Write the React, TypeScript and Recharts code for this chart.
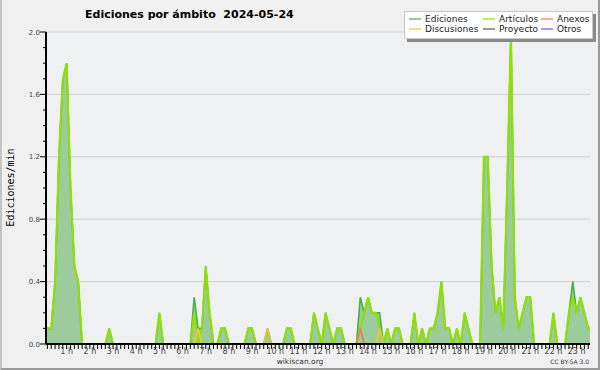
import { ComposedChart, Area, Line, XAxis, YAxis, CartesianGrid } from 'recharts'

// tramos de 10 minutos, 00:00 .. 23:50 (ediciones por minuto)
const SLOT_MINUTES = 10

const ediciones = [
  0.1, 0.1, 0.1, 0.4, 1.2, 1.7, 1.8, 1.0, 0.5, 0.4, 0, 0,
  0, 0, 0, 0, 0, 0.1, 0, 0, 0, 0, 0, 0,
  0, 0, 0, 0, 0, 0, 0.2, 0, 0, 0, 0, 0,
  0, 0, 0, 0.3, 0.1, 0.1, 0.5, 0.2, 0, 0, 0.1, 0.1,
  0, 0, 0, 0, 0, 0.1, 0.1, 0, 0, 0, 0.1, 0,
  0, 0, 0, 0.1, 0.1, 0, 0, 0, 0, 0, 0.2, 0.1,
  0, 0.2, 0.1, 0, 0.1, 0.1, 0, 0, 0, 0, 0.3, 0.2,
  0.3, 0.2, 0.2, 0.2, 0, 0.1, 0, 0.1, 0.1, 0, 0, 0,
  0.2, 0, 0.1, 0, 0.1, 0.1, 0.2, 0.4, 0.1, 0.1, 0, 0.1,
  0, 0.2, 0.1, 0, 0, 0, 1.2, 1.2, 0.5, 0.2, 0.3, 0.1,
  1.0, 2.0, 0.3, 0.1, 0.2, 0.3, 0.3, 0, 0, 0, 0, 0,
  0.2, 0, 0, 0, 0.2, 0.4, 0.2, 0.3, 0.2, 0.1, 0.1, 0,
]

const articulos = [
  0.1, 0.1, 0.1, 0.4, 1.2, 1.7, 1.8, 1.0, 0.5, 0.4, 0, 0,
  0, 0, 0, 0, 0, 0.1, 0, 0, 0, 0, 0, 0,
  0, 0, 0, 0, 0, 0, 0.2, 0, 0, 0, 0, 0,
  0, 0, 0, 0.2, 0, 0.1, 0.5, 0.2, 0, 0, 0.1, 0.1,
  0, 0, 0, 0, 0, 0.1, 0.1, 0, 0, 0, 0, 0,
  0, 0, 0, 0.1, 0.1, 0, 0, 0, 0, 0, 0.2, 0.1,
  0, 0.2, 0.1, 0, 0.1, 0.1, 0, 0, 0, 0, 0.1, 0.2,
  0.3, 0.2, 0.2, 0.1, 0, 0.1, 0, 0.1, 0.1, 0, 0, 0,
  0.2, 0, 0.1, 0, 0.1, 0.1, 0.2, 0.4, 0.1, 0.1, 0, 0.1,
  0, 0.2, 0.1, 0, 0, 0, 1.2, 1.2, 0.5, 0.2, 0.3, 0.1,
  1.0, 2.0, 0.3, 0.1, 0.2, 0.3, 0.3, 0, 0, 0, 0, 0,
  0.2, 0, 0, 0, 0.2, 0.3, 0.2, 0.3, 0.2, 0.1, 0.1, 0,
]

const anexos = [
  0, 0, 0, 0, 0, 0, 0, 0, 0, 0, 0, 0,
  0, 0, 0, 0, 0, 0, 0, 0, 0, 0, 0, 0,
  0, 0, 0, 0, 0, 0, 0, 0, 0, 0, 0, 0,
  0, 0, 0, 0, 0, 0, 0, 0, 0, 0, 0, 0,
  0, 0, 0, 0, 0, 0, 0, 0, 0, 0, 0, 0,
  0, 0, 0, 0, 0, 0, 0, 0, 0, 0, 0, 0,
  0, 0, 0, 0, 0, 0, 0, 0, 0, 0, 0.1, 0,
  0, 0, 0, 0, 0, 0, 0, 0, 0, 0, 0, 0,
  0, 0, 0, 0, 0, 0, 0, 0, 0, 0, 0, 0,
  0, 0, 0, 0, 0, 0, 0, 0, 0, 0, 0, 0,
  0, 0, 0, 0, 0, 0, 0, 0, 0, 0, 0, 0,
  0, 0, 0, 0, 0, 0, 0, 0, 0, 0, 0, 0,
]

const discusiones = [
  0, 0, 0, 0, 0, 0, 0, 0, 0, 0, 0, 0,
  0, 0, 0, 0, 0, 0, 0, 0, 0, 0, 0, 0,
  0, 0, 0, 0, 0, 0, 0, 0, 0, 0, 0, 0,
  0, 0, 0, 0, 0.1, 0, 0, 0, 0, 0, 0, 0,
  0, 0, 0, 0, 0, 0, 0, 0, 0, 0, 0.1, 0,
  0, 0, 0, 0, 0, 0, 0, 0, 0, 0, 0, 0,
  0, 0, 0, 0, 0, 0, 0, 0, 0, 0, 0, 0,
  0, 0, 0, 0.1, 0, 0, 0, 0, 0, 0, 0, 0,
  0, 0, 0, 0, 0, 0, 0, 0, 0, 0, 0, 0,
  0, 0, 0, 0, 0, 0, 0, 0, 0, 0, 0, 0,
  0, 0, 0, 0, 0, 0, 0, 0, 0, 0, 0, 0,
  0, 0, 0, 0, 0, 0, 0, 0, 0, 0, 0, 0,
]

const proyecto = [
  0, 0, 0, 0, 0, 0, 0, 0, 0, 0, 0, 0,
  0, 0, 0, 0, 0, 0, 0, 0, 0, 0, 0, 0,
  0, 0, 0, 0, 0, 0, 0, 0, 0, 0, 0, 0,
  0, 0, 0, 0, 0, 0, 0, 0, 0, 0, 0, 0,
  0, 0, 0, 0, 0, 0, 0, 0, 0, 0, 0, 0,
  0, 0, 0, 0, 0, 0, 0, 0, 0, 0, 0, 0,
  0, 0, 0, 0, 0, 0, 0, 0, 0, 0, 0, 0,
  0, 0, 0, 0, 0, 0, 0, 0, 0, 0, 0, 0,
  0, 0, 0, 0, 0, 0, 0, 0, 0, 0, 0, 0,
  0, 0, 0, 0, 0, 0, 0, 0, 0, 0, 0, 0,
  0, 0, 0, 0, 0, 0, 0, 0, 0, 0, 0, 0,
  0, 0, 0, 0, 0, 0, 0, 0, 0, 0, 0, 0,
]

const otros = [
  0, 0, 0, 0, 0, 0, 0, 0, 0, 0, 0, 0,
  0, 0, 0, 0, 0, 0, 0, 0, 0, 0, 0, 0,
  0, 0, 0, 0, 0, 0, 0, 0, 0, 0, 0, 0,
  0, 0, 0, 0, 0, 0, 0, 0, 0, 0, 0, 0,
  0, 0, 0, 0, 0, 0, 0, 0, 0, 0, 0, 0,
  0, 0, 0, 0, 0, 0, 0, 0, 0, 0, 0, 0,
  0, 0, 0, 0, 0, 0, 0, 0, 0, 0, 0, 0,
  0, 0, 0, 0, 0, 0, 0, 0, 0, 0, 0, 0,
  0, 0, 0, 0, 0, 0, 0, 0, 0, 0, 0, 0,
  0, 0, 0, 0, 0, 0, 0, 0, 0, 0, 0, 0,
  0, 0, 0, 0, 0, 0, 0, 0, 0, 0, 0, 0,
  0, 0, 0, 0, 0, 0, 0, 0, 0, 0, 0, 0,
]

const hourTicks = [1, 2, 3, 4, 5, 6, 7, 8, 9, 10, 11, 12, 13, 14, 15, 16, 17, 18, 19, 20, 21, 22, 23]
const yTicks = [0, 0.1, 0.2, 0.3, 0.4, 0.5, 0.6, 0.7, 0.8, 0.9, 1.0, 1.1, 1.2, 1.3, 1.4, 1.5, 1.6, 1.7, 1.8, 1.9, 2.0]
const yGridValues = [0.4, 0.8, 1.2, 1.6, 2.0]

const series = [
  { key: 'ediciones', name: 'Ediciones', color: '#45b045', width: 1.6 },
  { key: 'articulos', name: 'Artículos', color: '#90e000', width: 2 },
  { key: 'anexos', name: 'Anexos', color: '#f07a45', width: 1.6 },
  { key: 'discusiones', name: 'Discusiones', color: '#f0c828', width: 1.6 },
  { key: 'proyecto', name: 'Proyecto', color: '#555555', width: 1.6 },
  { key: 'otros', name: 'Otros', color: '#9048e8', width: 1.6 },
]

const data = ediciones.map((value, i) => ({
  hora: (i * SLOT_MINUTES) / 60,
  ediciones: value,
  articulos: articulos[i],
  anexos: anexos[i],
  discusiones: discusiones[i],
  proyecto: proyecto[i],
  otros: otros[i],
}))

// una marca cada 10 minutos dentro del eje
const xTicks = Array.from({ length: 141 }, (_, k) => ((k + 1) * SLOT_MINUTES) / 60)

const X_MIN = 0.108
const X_MAX = 23.576

const FONT = '"DejaVu Sans", sans-serif'

function renderXTick(props: any) {
  const { x, y, payload } = props
  const hour = payload.value
  const isHour = hourTicks.includes(hour)
  return (
    <g>
      <line x1={x} x2={x} y1={y} y2={y + 5} stroke="#000" strokeWidth={1} />
      {isHour && (
        <text x={x} y={y + 9.5} textAnchor="middle" fontSize={8} fontFamily={FONT} fill="#444">
          {`${hour} h`}
        </text>
      )}
    </g>
  )
}

function renderYTick(props: any) {
  const { x, y, payload } = props
  const v = payload.value
  const isMajor = Math.round(v * 10) % 4 === 0
  return (
    <g>
      <line x1={x - (isMajor ? 6 : 3)} x2={x} y1={y} y2={y} stroke="#000" strokeWidth={1} />
      {isMajor && (
        <text x={x - 6} y={y + 2.5} textAnchor="end" fontSize={7} fontFamily={FONT} fill="#444">
          {v.toFixed(1)}
        </text>
      )}
    </g>
  )
}

const legendRows = [series.slice(0, 3), series.slice(3, 6)]
const legendCols = [4, 78, 136]

export default function App() {
  return (
    <div style={{ position: 'relative', width: 600, height: 370, background: '#f0f0f0', overflow: 'hidden' }}>
      <style>{'body{margin:0}'}</style>
      <ComposedChart
        width={600}
        height={370}
        data={data}
        margin={{ top: 32, right: 10, bottom: 0, left: 0 }}
      >
        <CartesianGrid vertical={false} horizontalValues={yGridValues} stroke="#cfcfcf" fill="#eef0f2" />
        <Area
          type="linear"
          dataKey="ediciones"
          stroke="none"
          fill="#9ccb9c"
          fillOpacity={1}
          isAnimationActive={false}
          dot={false}
          activeDot={false}
        />
        {series.map((s) => (
          <Line
            key={s.key}
            type="linear"
            dataKey={s.key}
            stroke={s.color}
            strokeWidth={s.width}
            dot={false}
            activeDot={false}
            isAnimationActive={false}
          />
        ))}
        <XAxis
          dataKey="hora"
          type="number"
          domain={[X_MIN, X_MAX]}
          allowDataOverflow
          ticks={xTicks}
          interval={0}
          tick={renderXTick}
          tickLine={false}
          tickSize={0}
          tickMargin={0}
          axisLine={{ stroke: '#000', strokeWidth: 2 }}
          height={26}
        />
        <YAxis
          type="number"
          domain={[0, 2]}
          ticks={yTicks}
          interval={0}
          tick={renderYTick}
          tickLine={false}
          tickSize={0}
          tickMargin={0}
          axisLine={{ stroke: '#000', strokeWidth: 2 }}
          width={46}
        />
      </ComposedChart>

      <svg width={600} height={370} style={{ position: 'absolute', left: 0, top: 0, pointerEvents: 'none' }}>
        <text
          x={85}
          y={18}
          fontSize={11}
          fontWeight="bold"
          fontFamily={FONT}
          fill="#000"
          style={{ whiteSpace: 'pre' }}
        >
          {'Ediciones por ámbito  2024-05-24'}
        </text>
        <text
          x={10}
          y={187.5}
          transform="rotate(-90 10 187.5)"
          textAnchor="middle"
          dominantBaseline="central"
          fontSize={10}
          fontFamily='"DejaVu Sans Mono", monospace'
          fill="#000"
        >
          Ediciones/min
        </text>
        <text x={300} y={364} textAnchor="middle" fontSize={7.5} fontFamily={FONT} fill="#333">
          wikiscan.org
        </text>
        <text x={589} y={364} textAnchor="end" fontSize={6} fontFamily={FONT} fill="#333">
          CC BY-SA 3.0
        </text>
      </svg>

      <div
        style={{
          position: 'absolute',
          left: 404,
          top: 11,
          width: 187,
          height: 26,
          background: '#fff',
          border: '1px solid #c8c8c8',
          boxShadow: '3px 3px 0 #8a8a8a',
          fontFamily: FONT,
          fontSize: 9,
          color: '#222',
        }}
      >
        {legendRows.map((row, r) =>
          row.map((s, c) => (
            <div
              key={s.key}
              style={{
                position: 'absolute',
                left: legendCols[c],
                top: 2 + r * 10,
                height: 10,
                display: 'flex',
                alignItems: 'center',
                lineHeight: '10px',
                whiteSpace: 'nowrap',
              }}
            >
              <svg width={12} height={4} style={{ marginRight: 4 }}>
                <line x1={0} x2={12} y1={2} y2={2} stroke={s.color} strokeWidth={1.2} />
              </svg>
              {s.name}
            </div>
          )),
        )}
      </div>

      <div
        style={{
          position: 'absolute',
          inset: 0,
          boxSizing: 'border-box',
          borderLeft: '2px solid #c4c4c4',
          borderRight: '2px solid #9a9a9a',
          borderBottom: '2px solid #9a9a9a',
          pointerEvents: 'none',
        }}
      />
    </div>
  )
}
